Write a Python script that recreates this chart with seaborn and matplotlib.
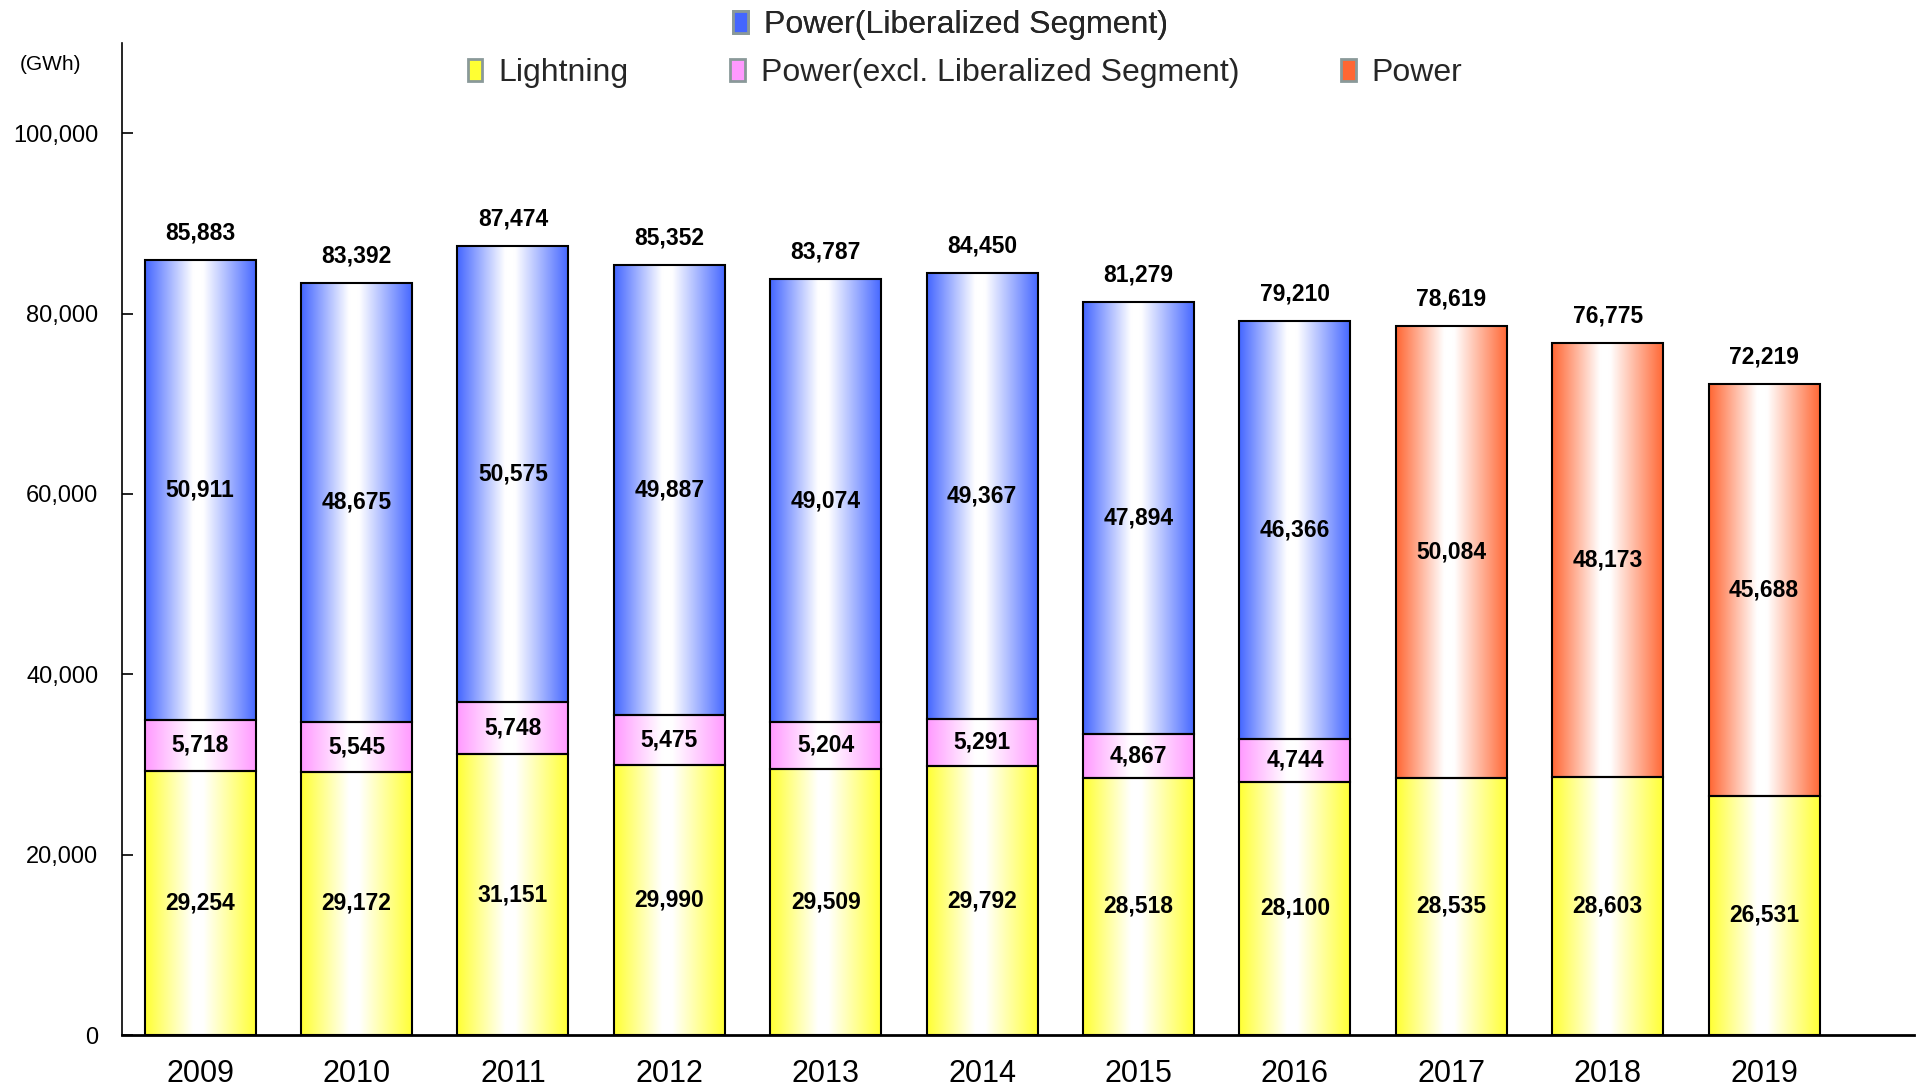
import numpy as np
import pandas as pd
import matplotlib
matplotlib.use("Agg")
import matplotlib.pyplot as plt
import seaborn as sns
from matplotlib.colors import LinearSegmentedColormap
from matplotlib.patches import Patch
from matplotlib.ticker import FuncFormatter, FixedLocator

years = ["2009", "2010", "2011", "2012", "2013", "2014", "2015", "2016", "2017", "2018", "2019"]
lightning = [29254, 29172, 31151, 29990, 29509, 29792, 28518, 28100, 28535, 28603, 26531]
power_excl = [5718, 5545, 5748, 5475, 5204, 5291, 4867, 4744, 0, 0, 0]
power_lib = [50911, 48675, 50575, 49887, 49074, 49367, 47894, 46366, 0, 0, 0]
power = [0, 0, 0, 0, 0, 0, 0, 0, 50084, 48173, 45688]
totals = [85883, 83392, 87474, 85352, 83787, 84450, 81279, 79210, 78619, 76775, 72219]

series_names = ["Lightning", "Power(excl. Liberalized Segment)", "Power(Liberalized Segment)", "Power"]
series_vals = [lightning, power_excl, power_lib, power]
series_colors = ["#ffff33", "#ff99ff", "#4466ff", "#ff6633"]

sns.set_theme(style="white")
plt.rcParams["font.family"] = ["Liberation Sans", "DejaVu Sans"]

fig = plt.figure(figsize=(19.18, 10.88), dpi=100)
ax = fig.add_axes([0.0636, 0.0487, 0.9344, 0.9118])

width = 0.71
bottoms = np.zeros(len(years))
for name, vals, col in zip(series_names, series_vals, series_colors):
    n_before = len(ax.patches)
    sns.barplot(x=years, y=vals, bottom=bottoms.copy(), color=col, width=width,
                edgecolor="black", linewidth=1.5, ax=ax, zorder=3)
    # horizontal gradient: colour at the edges, white near the middle
    cmap = LinearSegmentedColormap.from_list(
        name, [(0, col), (0.43, "white"), (0.52, "white"), (1, col)])
    grad = np.linspace(0, 1, 256).reshape(1, -1)
    for i, p in enumerate(ax.patches[n_before:]):
        h = p.get_height()
        if h <= 0:
            p.set_visible(False)
            continue
        x0, y0 = p.get_x(), p.get_y()
        im = ax.imshow(grad, cmap=cmap, aspect="auto", extent=[x0, x0 + p.get_width(), y0, y0 + h],
                       zorder=2, interpolation="bicubic")
        im.set_clip_path(p)
        p.set_facecolor("none")
        ax.text(x0 + p.get_width() / 2, y0 + h / 2, f"{vals[i]:,}", ha="center", va="center",
                fontsize=16.5, fontweight="bold", color="black", zorder=5)
    bottoms += np.array(vals)

for i, tot in enumerate(totals):
    ax.text(i, bottoms[i] + 3000, f"{tot:,}", ha="center", va="center",
            fontsize=16.5, fontweight="bold", color="black", zorder=5)

ax.set_xlim(-0.5, 10.96)
ax.set_ylim(0, 110000)
ax.set_yticks(np.arange(0, 100001, 20000))
ax.yaxis.set_major_formatter(FuncFormatter(lambda v, p: f"{int(v):,}"))
ax.xaxis.set_major_locator(FixedLocator(np.arange(0.5, 11, 1)))
ax.set_xticks(range(len(years)), labels=years, minor=True)
ax.set_xticklabels([])
ax.tick_params(axis="x", which="major", direction="in", length=8, width=1.2, color="black")
ax.tick_params(axis="x", which="minor", length=0, labelsize=22, pad=17)
ax.tick_params(axis="y", direction="in", length=8, width=1.2, color="black", labelsize=17, pad=17,
               left=True)
for t in ax.get_yticklabels():
    t.set_color("black")
for t in ax.get_xticklabels(minor=True):
    t.set_color("black")
ax.set_xlabel("")
ax.set_ylabel("")
for s in ["top", "right"]:
    ax.spines[s].set_visible(False)
ax.spines["left"].set_color("black")
ax.spines["bottom"].set_color("black")
ax.spines["left"].set_linewidth(1.2)
ax.spines["bottom"].set_linewidth(2)
ax.grid(False)

fig.text(0.0265, 0.941, "(GWh)", fontsize=15, color="black", va="center", ha="center")

def handle(c):
    return Patch(facecolor=c, edgecolor="#8a9999", linewidth=2)

leg1 = fig.legend([handle(series_colors[2])], [series_names[2]], loc="center left",
                  bbox_to_anchor=(0.374, 0.977), frameon=False, fontsize=23,
                  handlelength=0.45, handleheight=0.7, handletextpad=0.5, borderpad=0)
leg2 = fig.legend([handle(series_colors[0]), handle(series_colors[1]), handle(series_colors[3])],
                  [series_names[0], series_names[1], series_names[3]], loc="center left",
                  bbox_to_anchor=(0.2355, 0.933), frameon=False, fontsize=23, ncol=3,
                  handlelength=0.45, handleheight=0.7, handletextpad=0.5, columnspacing=3.2,
                  borderpad=0)
fig.add_artist(leg1)

fig.savefig("out.png", dpi=100)
